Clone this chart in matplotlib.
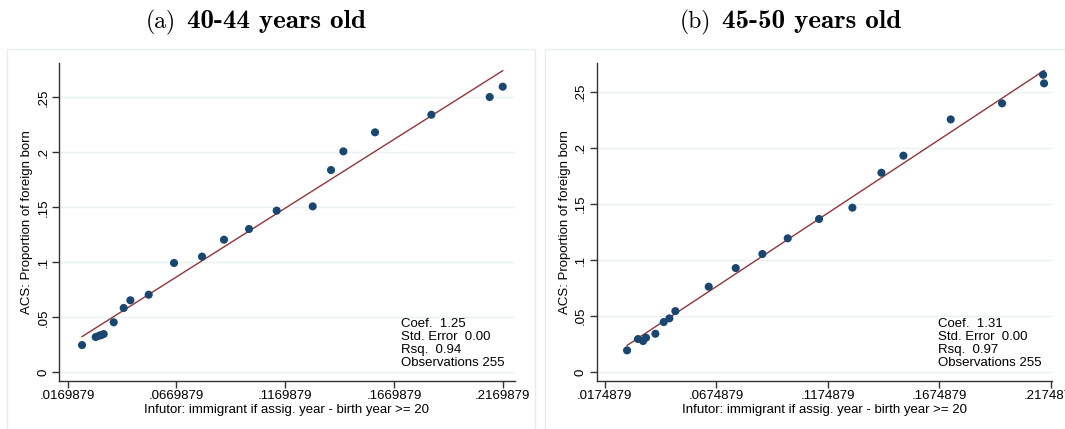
import numpy as np
import matplotlib
matplotlib.use("Agg")
import matplotlib.pyplot as plt
from matplotlib.patches import Rectangle

# binned scatter: share immigrant (Infutor) vs ACS share foreign born
x_4044 = [0.02358, 0.02986, 0.03140, 0.03247, 0.03354, 0.03814, 0.04274, 0.04580,
          0.05423, 0.06588, 0.07875, 0.08886, 0.10036, 0.11308, 0.12963, 0.13806,
          0.14373, 0.15829, 0.18419, 0.21101, 0.21699]
y_4044 = [0.0248, 0.0321, 0.0333, 0.0339, 0.0348, 0.0455, 0.0585, 0.0655,
          0.0706, 0.0994, 0.1052, 0.1206, 0.1303, 0.1470, 0.1509, 0.1839,
          0.2009, 0.2182, 0.2342, 0.2503, 0.2597]
coef_4044, icpt_4044 = 1.25, 0.003

x_4550 = [0.02750, 0.03242, 0.03467, 0.03600, 0.04019, 0.04393, 0.04647, 0.04916,
          0.06410, 0.07620, 0.08815, 0.09950, 0.11354, 0.12848, 0.14148, 0.15133,
          0.17254, 0.19554, 0.21392, 0.21437]
y_4550 = [0.0196, 0.0297, 0.0279, 0.0309, 0.0344, 0.0448, 0.0481, 0.0546,
          0.0763, 0.0929, 0.1054, 0.1194, 0.1366, 0.1467, 0.1778, 0.1930,
          0.2253, 0.2396, 0.2651, 0.2574]
coef_4550, icpt_4550 = 1.31, -0.012

xticks_4044 = [0.0169879, 0.0669879, 0.1169879, 0.1669879, 0.2169879]
xticks_4550 = [0.0174879, 0.0674879, 0.1174879, 0.1674879, 0.2174879]
yticks = [0, 0.05, 0.1, 0.15, 0.2, 0.25]
ytick_labels = ["0", ".05", ".1", ".15", ".2", ".25"]

stats_4044 = ["Coef.  1.25", "Std. Error  0.00", "Rsq.  0.94", "Observations 255"]
stats_4550 = ["Coef.  1.31", "Std. Error  0.00", "Rsq.  0.97", "Observations 255"]

W, H = 1065, 429
DOT = "#1a476f"
FIT = "#90353b"
GRID = "#eaf2f3"

plt.rcParams["font.family"] = ["Liberation Sans", "DejaVu Sans"]

fig = plt.figure(figsize=(W / 100, H / 100), dpi=100)


def px_axes(left, right, top, bottom):
    return fig.add_axes([left / W, 1 - bottom / H, (right - left) / W, (bottom - top) / H])


def panel(ax, x, y, coef, icpt, xticks, xlim, ylim, stats):
    ax.set_facecolor("white")
    for yt in yticks:
        ax.axhline(yt, color=GRID, lw=1.0, zorder=0)
    xs = np.array([min(x), max(x)])
    ax.plot(xs, icpt + coef * xs, color=FIT, lw=1.0, zorder=2)
    ax.scatter(x, y, s=34, color=DOT, edgecolors="none", zorder=3)
    ax.set_xlim(*xlim)
    ax.set_ylim(*ylim)
    ax.set_xticks(xticks)
    ax.set_xticklabels([("%.7f" % v)[1:] for v in xticks])
    ax.set_yticks(yticks)
    ax.set_yticklabels(ytick_labels, rotation=90, va="center")
    for s in ["top", "right"]:
        ax.spines[s].set_visible(False)
    for s in ["left", "bottom"]:
        ax.spines[s].set_color("#333333")
        ax.spines[s].set_linewidth(1.0)
    ax.tick_params(direction="out", length=5, width=1.0, color="#333333",
                   labelsize=9.5, pad=2)
    ax.set_xlabel("Infutor: immigrant if assig. year - birth year >= 20",
                  fontsize=9.5, labelpad=1)
    ax.set_ylabel("ACS: Proportion of foreign born", fontsize=9.5, labelpad=3)
    ax.text(0.75, 0.197, "\n".join(stats), transform=ax.transAxes,
            ha="left", va="top", fontsize=9.5, linespacing=1.1)


# light frames round each graph region
for left, right in [(7, 535), (545, 1075)]:
    fig.patches.append(Rectangle((left / W, -0.05), (right - left) / W, 1.05 - 49 / H,
                                 transform=fig.transFigure, fill=False,
                                 edgecolor="#e6eef0", lw=1.0))

ax1 = px_axes(59, 515, 62.7, 380.7)
panel(ax1, x_4044, y_4044, coef_4044, icpt_4044, xticks_4044,
      (0.01299, 0.22264), (-0.0076, 0.2815), stats_4044)

ax2 = px_axes(596.7, 1051.7, 62.7, 380.7)
panel(ax2, x_4550, y_4550, coef_4550, icpt_4550, xticks_4550,
      (0.01390, 0.21779), (-0.0074, 0.2758), stats_4550)

# panel titles: regular label, bold description
for tag, desc, xr, xb in [("(a)", "40-44 years old", 176, 187),
                          ("(b)", "45-50 years old", 711, 722)]:
    fig.text(xr / W, 1 - 28 / H, tag, family="cmr10", fontsize=17,
             ha="right", va="baseline")
    fig.text(xb / W, 1 - 28 / H, desc, family="cmb10", fontsize=19.5,
             ha="left", va="baseline")

fig.savefig("out.png", dpi=100, facecolor="white")
